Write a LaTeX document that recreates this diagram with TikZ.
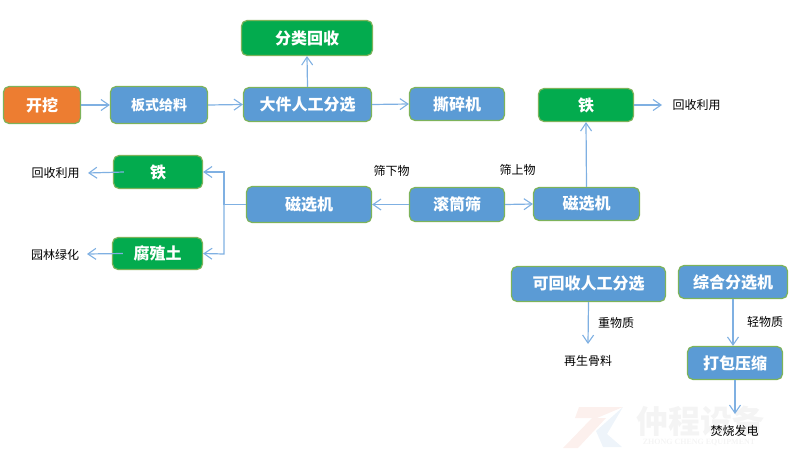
\documentclass[tikz,border=0pt]{standalone}
\usepackage{fontspec}
\setmainfont{Noto Sans CJK SC}
\newfontfamily\wmlatin{Liberation Serif}
\usetikzlibrary{arrows.meta}
\tikzset{
  x=1pt,y=-1pt,
  boxbase/.style={draw=boxedge,line width=1.2pt,rounded corners=5.5pt,text=white,inner sep=0pt,font=\fontsize{16}{16}\selectfont\bfseries},
  bluebox/.style={boxbase,fill=boxblue},
  greenbox/.style={boxbase,fill=boxgreen},
  orangebox/.style={boxbase,fill=boxorange},
  lbl/.style={inner sep=0pt,text=black,font=\fontsize{12}{12}\selectfont},
  conn/.style={draw=linkblue,line width=1.2pt,-{Straight Barb[length=8pt,width=11pt,line width=1.1pt]}},
  plainconn/.style={draw=linkblue,line width=1.2pt},
  wm/.style={inner sep=0pt,text=wmgray}
}
\definecolor{boxedge}{HTML}{7DB35A}
\definecolor{boxblue}{HTML}{5B9BD5}
\definecolor{boxgreen}{HTML}{03AB4E}
\definecolor{boxorange}{HTML}{ED7D31}
\definecolor{linkblue}{HTML}{7FB0E2}
\definecolor{wmgray}{HTML}{F4F4F4}
\definecolor{wmred}{HTML}{FCF0ED}
\definecolor{wmblue}{HTML}{EEF4FA}
\begin{document}
\begin{tikzpicture}
\useasboundingbox (0,0) rectangle (800,463);
% watermark
\fill[wmred] (579,407) -- (623,407) -- (597,418) -- (575,418) -- cycle;
\fill[wmred] (592,418) -- (606,418) -- (578,448) -- (563,448) -- cycle;
\fill[wmblue] (623,407) -- (596,431) -- (603,447) -- (622,447) -- (607,434) -- cycle;
\node[wm,font=\fontsize{32}{32}\selectfont\bfseries] (wmcn) at (700,421) {仲程设备};
\node[wm,font=\wmlatin\fontsize{8}{8}\selectfont\bfseries] (wmen) at (699,442) {ZHONG CHENG EQUIPMENT};
% boxes
\node[greenbox,minimum width=131pt,minimum height=35pt] (sort) at (307,38) {分类回收};
\node[orangebox,minimum width=77pt,minimum height=37pt] (dig) at (42,105) {开挖};
\node[bluebox,minimum width=97pt,minimum height=37pt,font=\fontsize{14}{14}\selectfont\bfseries] (feed) at (159,105) {板式给料};
\node[bluebox,minimum width=128pt,minimum height=34pt] (manual) at (307.5,104.5) {大件人工分选};
\node[bluebox,minimum width=95pt,minimum height=33pt] (shred) at (457,104) {撕碎机};
\node[greenbox,minimum width=95pt,minimum height=33pt] (ironr) at (586,105) {铁};
\node[bluebox,minimum width=106pt,minimum height=33pt] (magr) at (586.5,204) {磁选机};
\node[bluebox,minimum width=95pt,minimum height=34pt] (drum) at (457,204.5) {滚筒筛};
\node[bluebox,minimum width=125pt,minimum height=36pt] (magl) at (309,204.5) {磁选机};
\node[greenbox,minimum width=89pt,minimum height=33pt] (ironl) at (158,172) {铁};
\node[greenbox,minimum width=90pt,minimum height=32pt] (humus) at (157.5,253.5) {腐殖土};
\node[bluebox,minimum width=154pt,minimum height=35pt] (recyc) at (588.5,284) {可回收人工分选};
\node[bluebox,minimum width=109pt,minimum height=33pt] (combo) at (733,282) {综合分选机};
\node[bluebox,minimum width=95pt,minimum height=33pt] (press) at (735,363) {打包压缩};
% labels
\node[lbl] (useR) at (696.5,105) {回收利用};
\node[lbl] (useL) at (55.5,173) {回收利用};
\node[lbl] (garden) at (55,254.5) {园林绿化};
\node[lbl] (under) at (391.5,171) {筛下物};
\node[lbl] (over) at (517.5,170) {筛上物};
\node[lbl] (heavy) at (616,323) {重物质};
\node[lbl] (light) at (765,322) {轻物质};
\node[lbl] (aggr) at (588,360.5) {再生骨料};
\node[lbl] (burn) at (734.5,431) {焚烧发电};
% free ends and junction
\coordinate (junc) at (224,204.5);
\coordinate (jtop) at (224,172);
\coordinate (jbot) at (224,254);
\coordinate (endR) at (662,105);
\coordinate (endL) at (88,173);
\coordinate (endG) at (87,254);
\coordinate (endH) at (588,344);
\coordinate (endB) at (735,414);
% connectors
\draw[conn] (dig.east) -- (feed.west);
\draw[conn] (feed.east) -- (manual.west);
\draw[conn] (manual.east) -- (shred.west);
\draw[conn] (manual.north) -- (sort.south);
\draw[conn] (ironr.east) -- (endR);
\draw[conn] (magr.north) -- (ironr.south);
\draw[conn] (drum.east) -- (magr.west);
\draw[conn] (drum.west) -- (magl.east);
\draw[plainconn] (magl.west) -- (junc);
\draw[conn] (junc) -- (jtop) -- (ironl.east);
\draw[conn] (junc) -- (jbot) -- (humus.east);
\draw[conn] ([xshift=11pt]ironl.west) -- (endL);
\draw[conn] ([xshift=11pt]humus.west) -- (endG);
\draw[conn] (recyc.south) -- (endH);
\draw[conn] (combo.south) -- ([xshift=-2pt]press.north);
\draw[conn] (press.south) -- (endB);
\end{tikzpicture}
\end{document}
